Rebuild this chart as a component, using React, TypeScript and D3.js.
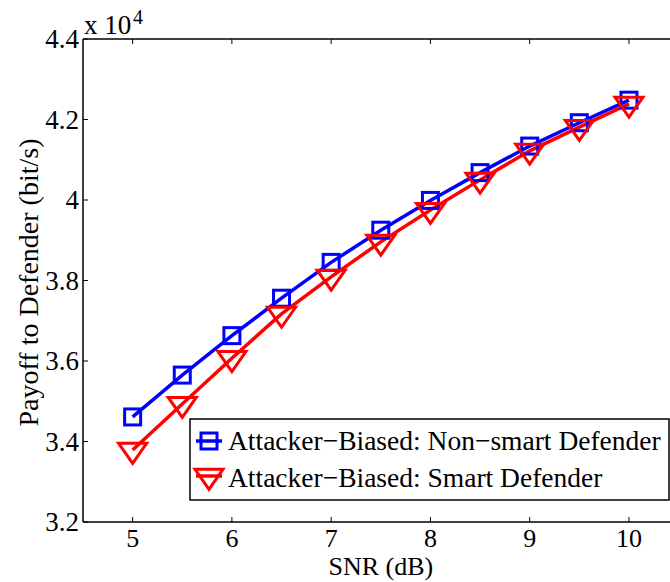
import React from "react";
import * as d3 from "d3";

// SNR sweep (dB)
const snr = [5, 5.5, 6, 6.5, 7, 7.5, 8, 8.5, 9, 9.5, 10];
// Payoff to defender (bit/s), attacker-biased case
const nonSmartPayoff = [34610, 35650, 36630, 37560, 38450, 39250, 39990, 40680, 41340, 41920, 42480];
const smartPayoff = [33790, 34930, 36070, 37170, 38090, 38960, 39750, 40500, 41220, 41810, 42390];

const xTicks = [5, 6, 7, 8, 9, 10];
const yTicks = [3.2, 3.4, 3.6, 3.8, 4, 4.2, 4.4];
const seriesNames = [
  "Attacker\u2212Biased: Non\u2212smart Defender",
  "Attacker\u2212Biased: Smart Defender",
];

const W = 670;
const H = 582;
const FONT = "Liberation Serif, Times New Roman, Times, DejaVu Serif, serif";

const textStyle = (size: number): React.CSSProperties => ({
  fontFamily: FONT,
  fontSize: size,
  fill: "#000",
});

export default function App() {
  const x = d3.scaleLinear().domain([4.5, 10.5]).range([83, 678.6]);
  const y = d3.scaleLinear().domain([32000, 44000]).range([522, 39]);
  const [x0, x1] = x.range();
  const [yb, yt] = y.range();

  const line = d3
    .line<number>()
    .x((_, i) => x(snr[i]))
    .y((d) => y(d));

  const sq = 8; // half side of square marker
  const triPath = (cx: number, cy: number) => {
    const h = 20;
    const hw = 14;
    return `M${cx - hw},${cy - h / 3}L${cx + hw},${cy - h / 3}L${cx},${cy + (2 * h) / 3}Z`;
  };

  const tickLen = 5;

  return (
    <div style={{ position: "absolute", left: 0, top: 0 }}>
      <svg width={W} height={H} style={{ display: "block", background: "#fff" }}>
        <rect x={0} y={0} width={W} height={H} fill="#fff" />

        {/* series lines */}
        <path d={line(nonSmartPayoff) || ""} fill="none" stroke="#0000ff" strokeWidth={3.5} />
        <path d={line(smartPayoff) || ""} fill="none" stroke="#ff0000" strokeWidth={3.5} />

        {/* markers */}
        {nonSmartPayoff.map((v, i) => (
          <rect
            key={`s${i}`}
            x={x(snr[i]) - sq}
            y={y(v) - sq}
            width={sq * 2}
            height={sq * 2}
            fill="none"
            stroke="#0000ff"
            strokeWidth={3}
          />
        ))}
        {smartPayoff.map((v, i) => (
          <path
            key={`t${i}`}
            d={triPath(x(snr[i]), y(v))}
            fill="none"
            stroke="#ff0000"
            strokeWidth={3}
          />
        ))}

        {/* axes box */}
        <g stroke="#000" strokeWidth={1.5} fill="none">
          <line x1={x0} y1={yb} x2={x1} y2={yb} />
          <line x1={x0} y1={yt} x2={x1} y2={yt} />
          <line x1={x0} y1={yb} x2={x0} y2={yt} />
          <line x1={x1} y1={yb} x2={x1} y2={yt} />
        </g>

        {/* x ticks */}
        {xTicks.map((t) => (
          <g key={`xt${t}`}>
            <line x1={x(t)} x2={x(t)} y1={yb} y2={yb - tickLen} stroke="#000" strokeWidth={1} />
            <line x1={x(t)} x2={x(t)} y1={yt} y2={yt + tickLen} stroke="#000" strokeWidth={1} />
            <text x={x(t)} y={547} textAnchor="middle" style={textStyle(26)}>
              {t}
            </text>
          </g>
        ))}

        {/* y ticks */}
        {yTicks.map((t) => (
          <g key={`yt${t}`}>
            <line x1={x0} x2={x0 + tickLen} y1={y(t * 1e4)} y2={y(t * 1e4)} stroke="#000" strokeWidth={1} />
            <text
              x={79}
              y={y(t * 1e4)}
              dy="0.34em"
              textAnchor="end"
              style={textStyle(27)}
            >
              {t.toFixed(1).replace(/^4\.0$/, "4")}
            </text>
          </g>
        ))}

        {/* exponent */}
        <text x={84} y={34} style={textStyle(27)}>
          x 10
        </text>
        <text x={133} y={24} style={textStyle(20)}>
          4
        </text>

        {/* axis titles */}
        <text x={(x(5) + x(10)) / 2} y={575} textAnchor="middle" style={textStyle(26)}>
          SNR (dB)
        </text>
        <text
          transform={`translate(38,${(yb + yt) / 2 + 2}) rotate(-90)`}
          textAnchor="middle"
          style={textStyle(28)}
        >
          Payoff to Defender (bit/s)
        </text>

        {/* legend */}
        <g>
          <rect x={190} y={419} width={479} height={81} fill="#fff" stroke="#000" strokeWidth={1.5} />
          <line x1={196} x2={222} y1={441} y2={441} stroke="#0000ff" strokeWidth={3.5} />
          <rect x={209 - sq} y={441 - sq} width={sq * 2} height={sq * 2} fill="none" stroke="#0000ff" strokeWidth={3} />
          <text x={228} y={450} style={textStyle(27.5)}>
            {seriesNames[0]}
          </text>
          <line x1={196} x2={222} y1={476} y2={476} stroke="#ff0000" strokeWidth={3.5} />
          <path d={triPath(209, 476)} fill="none" stroke="#ff0000" strokeWidth={3} />
          <text x={228} y={487} style={textStyle(27.5)}>
            {seriesNames[1]}
          </text>
        </g>
      </svg>
    </div>
  );
}
